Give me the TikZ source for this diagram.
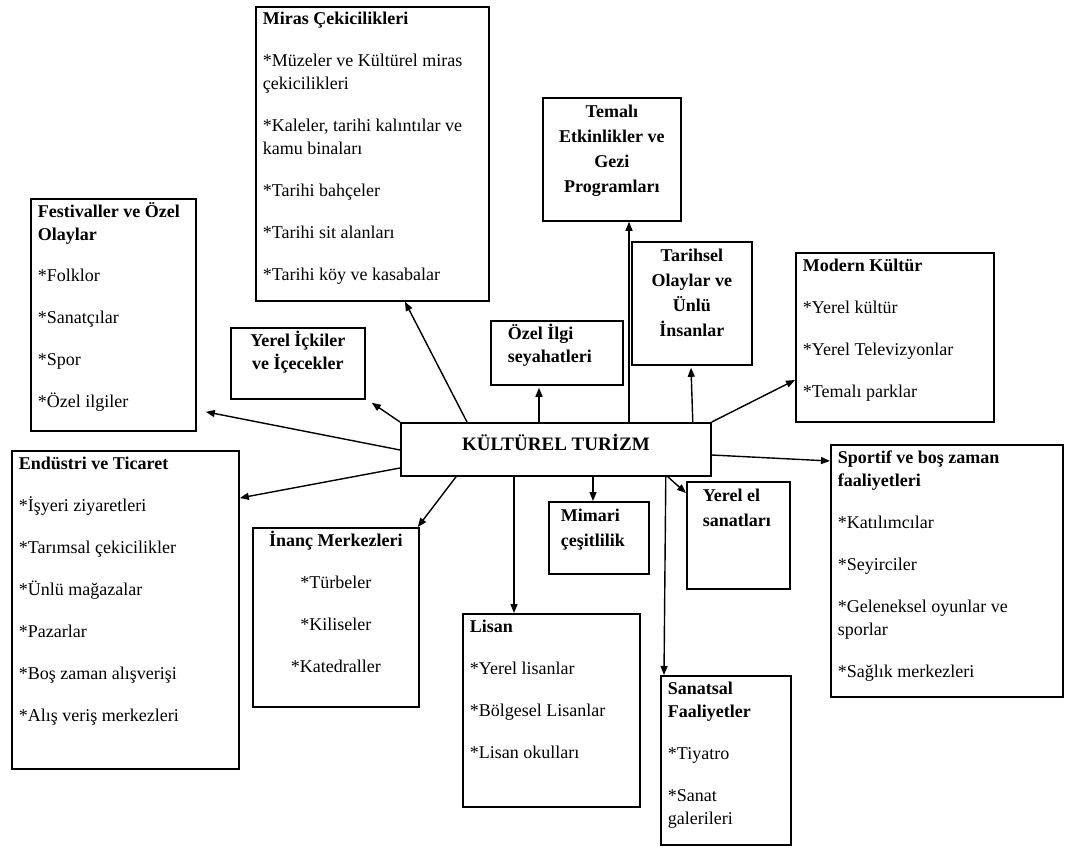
\documentclass[tikz,border=0pt]{standalone}
\usepackage{fontspec}
\setmainfont{Liberation Serif}
\usetikzlibrary{arrows.meta,calc}
\newcommand\bxc[4]{\parbox[t][\dimexpr#2pt-4pt\relax][t]{\dimexpr#1pt-14pt\relax}{\fontsize{18}{23}\selectfont\setlength\parskip{19pt}#3\strut#4}}
\begin{document}
\begin{tikzpicture}[x=1pt,y=-1pt,
  bx/.style={draw, line width=1.8pt, inner xsep=7pt, inner ysep=2pt, anchor=north west},
  arr/.style={line width=1.4pt, -{Triangle[length=9pt,width=7pt]}}]
\fill[white] (0,0) rectangle (1066,848);
\useasboundingbox (0,0) rectangle (1066,848);

\node[bx] (miras) at (255,6) {\bxc{233}{294}{\raggedright}{\textbf{Miras Çekicilikleri}\par
 *Müzeler ve Kültürel miras\\ çekicilikleri\par
 *Kaleler, tarihi kalıntılar ve\\ kamu binaları\par
 *Tarihi bahçeler\par
 *Tarihi sit alanları\par
 *Tarihi köy ve kasabalar}};

\node[bx] (tem) at (542,97) {\bxc{138}{123}{\centering\fontsize{18}{25}\selectfont}{\textbf{Temalı\\ Etkinlikler ve\\ Gezi\\ Programları}}};

\node[bx] (fest) at (30,198) {\bxc{165}{232}{\raggedright}{\textbf{Festivaller ve Özel\\ Olaylar}\par
 *Folklor\par *Sanatçılar\par *Spor\par *Özel ilgiler}};

\node[bx] (ick) at (230,327) {\bxc{134}{71}{\centering}{\textbf{Yerel İçkiler\\ ve İçecekler}}};

\node[bx] (ozel) at (490,320) {\bxc{132}{64}{\raggedright\leftskip=10pt}{\textbf{Özel İlgi\\ seyahatleri}}};

\node[bx] (tar) at (631,241) {\bxc{120}{123}{\centering\fontsize{18}{25}\selectfont}{\textbf{Tarihsel\\ Olaylar ve\\ Ünlü\\ İnsanlar}}};

\node[bx] (modern) at (795,252) {\bxc{198}{169}{\raggedright}{\textbf{Modern Kültür}\par
 *Yerel kültür\par *Yerel Televizyonlar\par *Temalı parklar}};

\node[draw, line width=1.8pt, anchor=north west, minimum width=310pt, minimum height=53pt,
  inner sep=0pt, text height=13pt, text depth=11pt, font=\fontsize{19}{22}\selectfont\bfseries]
  (kt) at (400,422) {KÜLTÜREL TURİZM};

\node[bx] (ind) at (11,450) {\bxc{227}{318}{\raggedright}{\textbf{Endüstri ve Ticaret}\par
 *İşyeri ziyaretleri\par *Tarımsal çekicilikler\par *Ünlü mağazalar\par *Pazarlar\par
 *Boş zaman alışverişi\par *Alış veriş merkezleri}};

\node[bx] (inanc) at (252,527) {\bxc{166}{179}{\centering}{\textbf{İnanç Merkezleri}\par
 *Türbeler\par *Kiliseler\par *Katedraller}};

\node[bx] (mimari) at (548,501) {\bxc{100}{72}{\raggedright\leftskip=5pt\fontsize{18}{25}\selectfont}{\textbf{Mimari\\ çeşitlilik}}};

\node[bx] (yel) at (686,481) {\bxc{103}{107}{\raggedright\leftskip=9pt\fontsize{18}{25}\selectfont}{\textbf{Yerel el\\ sanatları}}};

\node[bx] (sport) at (830,444) {\bxc{232}{252}{\raggedright}{\textbf{Sportif ve boş zaman\\ faaliyetleri}\par
 *Katılımcılar\par *Seyirciler\par *Geleneksel oyunlar ve\\ sporlar\par *Sağlık merkezleri}};

\node[bx] (lisan) at (462,613) {\bxc{177}{193}{\raggedright}{\textbf{Lisan}\par
 *Yerel lisanlar\par *Bölgesel Lisanlar\par *Lisan okulları}};

\node[bx] (sanat) at (660,675) {\bxc{130}{169}{\raggedright}{\textbf{Sanatsal\\ Faaliyetler}\par
 *Tiyatro\par *Sanat\\ galerileri}};

% connectors
\draw[arr] ([xshift=67pt]kt.north west) -- ([xshift=150pt]miras.south west);
\draw[arr] (kt.north west) -- ([xshift=6pt,yshift=-3pt]ick.south east);
\draw[arr] ([yshift=-28pt]kt.north west) -- ([xshift=9pt,yshift=20pt]fest.south east);
\draw[arr] ([yshift=-46pt]kt.north west) -- ([yshift=-48pt]ind.north east);
\draw[arr] ([xshift=56pt]kt.south west) -- ([xshift=-2pt]inanc.north east);
\draw[arr] ([xshift=114pt]kt.south west) -- ([xshift=52pt]lisan.north west);
\draw[arr] ([xshift=193pt]kt.south west) -- ([xshift=45pt]mimari.north west);
\draw[arr] ([xshift=-44pt]kt.south east) -- ([yshift=-12pt]yel.north west);
\draw[arr] ([xshift=-46pt]kt.south east) -- ([xshift=4pt]sanat.north west);
\draw[arr] ([yshift=-33pt]kt.north east) -- ([yshift=-17pt]sport.north west);
\draw[arr] (kt.north east) -- ([yshift=-128pt]modern.north west);
\draw[arr] ([xshift=-19pt]kt.north east) -- ([xshift=60pt,yshift=-2pt]tar.south west);
\draw[arr] ([xshift=229pt]kt.north west) -- ([xshift=87pt]tem.south west);
\draw[arr] ([xshift=139pt]kt.north west) -- ([xshift=49pt,yshift=-2pt]ozel.south west);
\end{tikzpicture}
\end{document}
